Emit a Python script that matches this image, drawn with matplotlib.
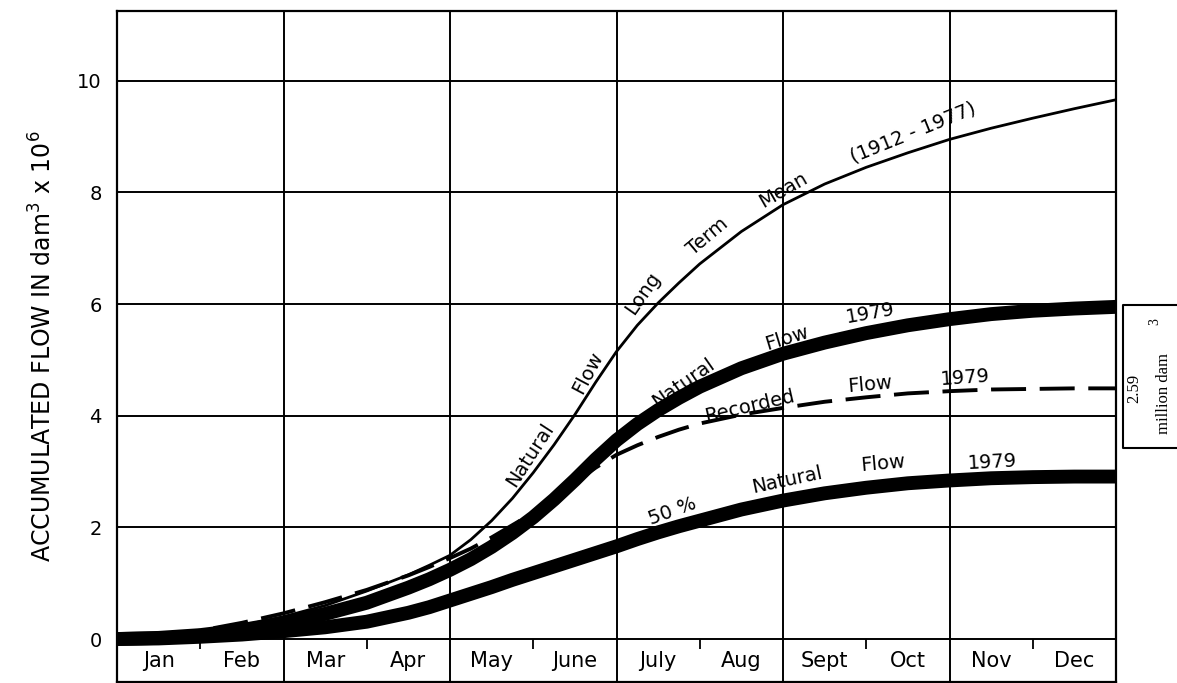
import matplotlib
matplotlib.use("Agg")
from matplotlib import pyplot as plt
from matplotlib.lines import Line2D

# months from start of year (0 = 1 Jan, 12 = 31 Dec), finer steps where the curves climb
months = [0, 0.5, 1, 1.5, 2, 2.5, 3, 3.5, 3.75, 4, 4.25, 4.5, 4.75, 5, 5.25, 5.5, 5.75, 6,
          6.25, 6.5, 6.75, 7, 7.5, 8, 8.5, 9, 9.5, 10, 10.5, 11, 11.5, 12]

# accumulated flow, dam3 x 10^6
long_term_mean = [0, 0.04, 0.12, 0.24, 0.40, 0.60, 0.86, 1.15, 1.32, 1.50, 1.78, 2.12, 2.52,
                  2.98, 3.48, 4.02, 4.60, 5.15, 5.62, 6.02, 6.38, 6.72, 7.30, 7.78, 8.15, 8.45,
                  8.71, 8.95, 9.15, 9.33, 9.50, 9.66]
natural_1979 = [0, 0.02, 0.07, 0.16, 0.29, 0.45, 0.65, 0.92, 1.07, 1.24, 1.43, 1.65, 1.90,
                2.18, 2.50, 2.85, 3.22, 3.56, 3.85, 4.10, 4.32, 4.52, 4.85, 5.11, 5.31, 5.48,
                5.62, 5.73, 5.82, 5.88, 5.92, 5.95]
recorded_1979 = [0, 0.05, 0.15, 0.29, 0.46, 0.66, 0.88, 1.14, 1.29, 1.45, 1.62, 1.82, 2.04,
                 2.26, 2.52, 2.80, 3.07, 3.30, 3.47, 3.62, 3.75, 3.86, 4.02, 4.14, 4.25, 4.33,
                 4.40, 4.44, 4.47, 4.48, 4.49, 4.49]
natural_50pct = [0, 0.01, 0.04, 0.08, 0.14, 0.21, 0.31, 0.47, 0.57, 0.69, 0.81, 0.93, 1.06,
                 1.18, 1.30, 1.42, 1.54, 1.66, 1.79, 1.91, 2.02, 2.12, 2.32, 2.48, 2.61, 2.71,
                 2.79, 2.84, 2.88, 2.90, 2.91, 2.91]

month_names = ["Jan", "Feb", "Mar", "Apr", "May", "June",
               "July", "Aug", "Sept", "Oct", "Nov", "Dec"]
y_ticks = [0, 2, 4, 6, 8, 10]

# words written along the curves: (text, x, y, angle)
curve_words = [
    ("Natural", 4.96, 3.30, 57), ("Flow", 5.65, 4.77, 62), ("Long", 6.32, 6.20, 55),
    ("Term", 7.09, 7.20, 40), ("Mean", 8.00, 8.05, 30), ("(1912 - 1977)", 9.56, 9.07, 22),
    ("Natural", 6.80, 4.59, 35), ("Flow", 8.05, 5.39, 17), ("1979", 9.05, 5.84, 10),
    ("Recorded", 7.60, 4.16, 13), ("Flow", 9.05, 4.55, 5), ("1979", 10.19, 4.68, 4),
    ("50 %", 6.67, 2.28, 20), ("Natural", 8.05, 2.85, 12), ("Flow", 9.20, 3.15, 5),
    ("1979", 10.51, 3.17, 3),
]

W, H = 1177, 683
fig = plt.figure(figsize=(W / 100, H / 100), dpi=100)
ax = fig.add_axes([117 / W, 1 / H, 999 / W, 671 / H])
ax.set_xlim(0, 12)
ax.set_ylim(-0.77, 11.25)

# grid: full-height lines every two months, horizontal lines at the y ticks
ax.set_xticks([2, 4, 6, 8, 10])
ax.set_xticklabels([])
ax.set_yticks(y_ticks)
ax.set_yticklabels([str(v) for v in y_ticks], fontsize=14)
ax.tick_params(length=0, pad=11)
ax.grid(True, color="black", linewidth=1.4)
ax.set_axisbelow(True)
for s in ax.spines.values():
    s.set_linewidth(1.6)

# short marks between the month pairs in the month strip
ax.vlines([1, 3, 5, 7, 9, 11], -0.18, 0, color="black", linewidth=1.3)
for i, name in enumerate(month_names):
    ax.text(i + 0.5, -0.4, name, ha="center", va="center", fontsize=15)

ax.plot(months, long_term_mean, color="black", linewidth=2.0)
ax.plot(months, recorded_1979, color="black", linewidth=2.8, dashes=(9, 3.5))
ax.plot(months, natural_1979, color="black", linewidth=10, solid_capstyle="butt")
ax.plot(months, natural_50pct, color="black", linewidth=10, solid_capstyle="butt")

for word, x, y, ang in curve_words:
    ax.text(x, y, word, rotation=ang, rotation_mode="anchor", ha="center", va="center",
            fontsize=14, color="black")

fig.text(43 / W, 1 - 346 / H, r"ACCUMULATED FLOW IN dam$^{3}$ x 10$^{6}$",
         rotation=90, ha="center", va="center", fontsize=17)

# bracket on the right with the 2.59 million dam3 note
bx, by0, by1 = 1123 / W, 1 - 305 / H, 1 - 448 / H
fig.add_artist(Line2D([1.0, bx, bx, 1.0], [by0, by0, by1, by1], color="black", linewidth=1.5))
fig.text(1134 / W, 1 - 388 / H, "2.59", rotation=90, ha="center", va="center",
         fontsize=12, family="Liberation Serif")
fig.text(1164 / W, 1 - 394 / H, "million dam", rotation=90, ha="center", va="center",
         fontsize=12, family="Liberation Serif")
fig.text(1155 / W, 1 - 322 / H, "3", rotation=90, ha="center", va="center",
         fontsize=10, family="Liberation Serif")

fig.savefig("out.png", dpi=100)
